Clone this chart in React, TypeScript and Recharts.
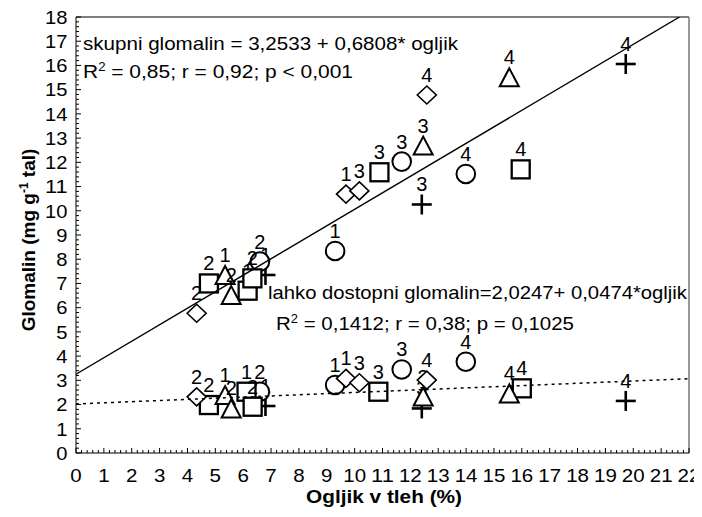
import { ScatterChart, Scatter, XAxis, YAxis, ReferenceLine } from 'recharts';

const FONT = '"Liberation Sans", Arial, Helvetica, sans-serif';

// axis ticks
const xTicks = [0, 1, 2, 3, 4, 5, 6, 7, 8, 9, 10, 11, 12, 13, 14, 15, 16, 17, 18, 19, 20, 21, 22];
const yTicks = [0, 1, 2, 3, 4, 5, 6, 7, 8, 9, 10, 11, 12, 13, 14, 15, 16, 17, 18];
const minorSteps = [0, 0.2, 0.4, 0.6, 0.8];

// diamonds
const diamondX = [4.33, 9.69, 10.17, 12.59];
const diamondTotal = [5.77, 10.69, 10.82, 14.78];
const diamondAvail = [2.32, 3.08, 2.9, 3.01];
const diamondLabels = ['2', '1', '3', '4'];

// triangles
const triangleX = [5.35, 5.57, 12.46, 15.55];
const triangleTotal = [7.35, 6.52, 12.69, 15.51];
const triangleAvail = [2.39, 1.84, 2.33, 2.46];
const triangleLabels = ['1', '2', '3', '4'];

// squares
const squareXTotal = [4.77, 6.16, 6.33, 10.89, 15.96];
const squareTotal = [7.0, 6.7, 7.21, 11.59, 11.71];
const squareXAvail = [4.77, 6.12, 6.34, 10.85, 16.0];
const squareAvail = [1.98, 2.53, 1.91, 2.53, 2.67];
const squareLabels = ['2', '1', '2', '3', '4'];

// circles
const circleX = [9.3, 6.6, 11.69, 13.99];
const circleTotal = [8.34, 7.9, 12.03, 11.52];
const circleAvail = [2.81, 2.53, 3.45, 3.77];
const circleLabels = ['1', '2', '3', '4'];

// crosses
const plusX = [6.8, 12.41, 19.73];
const plusTotal = [7.35, 10.26, 16.06];
const plusAvail = [1.94, 1.84, 2.15];
const plusLabels = ['1', '3', '4'];

// regression lines (end points)
const totalFitX = [0, 21.66];
const totalFitY = [3.2533, 18];
const availFitX = [0, 22];
const availFitY = [2.0247, 3.0675];

const mk = (xs: number[], ys: number[], labels?: string[]) =>
  xs.map((x, i) => ({ x, y: ys[i], label: labels ? labels[i] : '' }));

const xMinorTicks = xTicks
  .slice(0, -1)
  .flatMap((t) => minorSteps.map((s) => Math.round((t + s) * 10) / 10))
  .concat([xTicks[xTicks.length - 1]]);
const yMinorTicks = yTicks
  .slice(0, -1)
  .flatMap((t) => minorSteps.map((s) => Math.round((t + s) * 10) / 10))
  .concat([yTicks[yTicks.length - 1]]);

const isMajor = (v: number) => Math.abs(v - Math.round(v)) < 1e-6;

const XTick = ({ x, y, payload }: any) => {
  const v = payload.value;
  const major = isMajor(v);
  const txt = String(Math.round(v));
  return (
    <g>
      <line x1={x} x2={x} y1={y} y2={y - (major ? 5 : 3)} stroke="#000" strokeWidth={1} />
      {major && (
        <text
          x={x}
          y={y + 28.5}
          textAnchor="middle"
          fontSize={18.5}
          fontFamily={FONT}
          fill="#000"
          textLength={txt.length * 11.4}
          lengthAdjust="spacingAndGlyphs"
        >
          {txt}
        </text>
      )}
    </g>
  );
};

const YTick = ({ x, y, payload }: any) => {
  const v = payload.value;
  const major = isMajor(v);
  const txt = String(Math.round(v));
  return (
    <g>
      <line x1={x} x2={x + (major ? 5 : 3)} y1={y} y2={y} stroke="#000" strokeWidth={1} />
      {major && (
        <text
          x={x - 8.5}
          y={y + 6.8}
          textAnchor="end"
          fontSize={18.5}
          fontFamily={FONT}
          fill="#000"
          textLength={txt.length * 11.2}
          lengthAdjust="spacingAndGlyphs"
        >
          {txt}
        </text>
      )}
    </g>
  );
};

const markerLabel = (cx: number, cy: number, label: string) =>
  label ? (
    <text x={cx} y={cy - 13} textAnchor="middle" fontSize={20} fontFamily={FONT} fill="#000">
      {label}
    </text>
  ) : null;

const makeShape = (kind: string) => (props: any) => {
  const { cx, cy, payload } = props;
  let mark = null;
  if (kind === 'square') {
    mark = <rect x={cx - 9} y={cy - 9} width={18} height={18} fill="#fff" stroke="#000" strokeWidth={2.3} />;
  } else if (kind === 'circle') {
    mark = <circle cx={cx} cy={cy} r={9.3} fill="#fff" stroke="#000" strokeWidth={2} />;
  } else if (kind === 'triangle') {
    mark = (
      <polygon
        points={`${cx},${cy - 9} ${cx - 9.5},${cy + 9} ${cx + 9.5},${cy + 9}`}
        fill="#fff"
        stroke="#000"
        strokeWidth={2}
      />
    );
  } else if (kind === 'diamond') {
    mark = (
      <polygon
        points={`${cx},${cy - 9} ${cx + 9.5},${cy} ${cx},${cy + 9} ${cx - 9.5},${cy}`}
        fill="#fff"
        stroke="#000"
        strokeWidth={1.6}
      />
    );
  } else {
    mark = (
      <g stroke="#000" strokeWidth={2.6}>
        <line x1={cx - 10} x2={cx + 10} y1={cy} y2={cy} />
        <line x1={cx} x2={cx} y1={cy - 10} y2={cy + 10} />
      </g>
    );
  }
  return (
    <g>
      {mark}
      {markerLabel(cx, cy, payload.label)}
    </g>
  );
};

const series = [
  { kind: 'plus', total: mk(plusX, plusTotal, plusLabels), avail: mk(plusX, plusAvail, plusLabels) },
  { kind: 'circle', total: mk(circleX, circleTotal, circleLabels), avail: mk(circleX, circleAvail, circleLabels) },
  { kind: 'square', total: mk(squareXTotal, squareTotal, squareLabels), avail: mk(squareXAvail, squareAvail, squareLabels) },
  { kind: 'triangle', total: mk(triangleX, triangleTotal, triangleLabels), avail: mk(triangleX, triangleAvail, triangleLabels) },
  { kind: 'diamond', total: mk(diamondX, diamondTotal, diamondLabels), avail: mk(diamondX, diamondAvail, diamondLabels) },
];

const noDot = () => <g />;

export default function App() {
  return (
    <div style={{ position: 'relative', width: 694, height: 509, background: '#fff' }}>
      <ScatterChart width={694} height={509} margin={{ top: 9, right: 13, bottom: 0, left: 0 }}>
        <XAxis
          type="number"
          dataKey="x"
          domain={[0, 22]}
          ticks={xMinorTicks}
          interval={0}
          tick={<XTick />}
          tickLine={false}
          tickSize={0}
          tickMargin={0}
          axisLine={{ stroke: '#000', strokeWidth: 1 }}
          height={64}
          allowDataOverflow
        />
        <YAxis
          type="number"
          dataKey="y"
          domain={[0, 18]}
          ticks={yMinorTicks}
          interval={0}
          tick={<YTick />}
          tickLine={false}
          tickSize={0}
          tickMargin={0}
          axisLine={{ stroke: '#000', strokeWidth: 1 }}
          width={68}
          allowDataOverflow
        />
        <ReferenceLine y={18} stroke="#000" strokeWidth={1} />
        <ReferenceLine x={22} stroke="#777" strokeWidth={1.5} />
        {series.map((s) => (
          <Scatter key={`${s.kind}-t`} data={s.total} shape={makeShape(s.kind)} isAnimationActive={false} />
        ))}
        {series.map((s) => (
          <Scatter key={`${s.kind}-a`} data={s.avail} shape={makeShape(s.kind)} isAnimationActive={false} />
        ))}
        <Scatter
          data={mk(totalFitX, totalFitY)}
          shape={noDot}
          line={{ stroke: '#000', strokeWidth: 1.4 }}
          isAnimationActive={false}
        />
        <Scatter
          data={mk(availFitX, availFitY)}
          shape={noDot}
          line={{ stroke: '#000', strokeWidth: 1.5, strokeDasharray: '3 4' }}
          isAnimationActive={false}
        />
      </ScatterChart>
      <svg
        width={694}
        height={509}
        style={{ position: 'absolute', left: 0, top: 0, pointerEvents: 'none' }}
        fontFamily={FONT}
      >
        <text x={75} y={42} fontSize={19} textLength={375} lengthAdjust="spacingAndGlyphs">
          skupni glomalin = 3,2533 + 0,6808* ogljik
        </text>
        <text x={75} y={70} fontSize={19} textLength={270} lengthAdjust="spacingAndGlyphs">
          R<tspan fontSize={12} dy={-7}>2</tspan>
          <tspan dy={7}> = 0,85; r = 0,92; p &lt; 0,001</tspan>
        </text>
        <text x={260} y={291} fontSize={19} textLength={419} lengthAdjust="spacingAndGlyphs">
          lahko dostopni glomalin=2,0247+ 0,0474*ogljik
        </text>
        <text x={268} y={322} fontSize={19} textLength={298} lengthAdjust="spacingAndGlyphs">
          R<tspan fontSize={12} dy={-7}>2</tspan>
          <tspan dy={7}> = 0,1412; r = 0,38; p = 0,1025</tspan>
        </text>
        <text x={376} y={495} fontSize={19} fontWeight="bold" textAnchor="middle" textLength={156} lengthAdjust="spacingAndGlyphs">
          Ogljik v tleh (%)
        </text>
        <text
          transform="translate(27, 232) rotate(-90)"
          fontSize={19}
          fontWeight="bold"
          textAnchor="middle"
        >
          Glomalin (mg g<tspan fontSize={12} dy={-7}>-1</tspan>
          <tspan dy={7}> tal)</tspan>
        </text>
      </svg>
    </div>
  );
}
